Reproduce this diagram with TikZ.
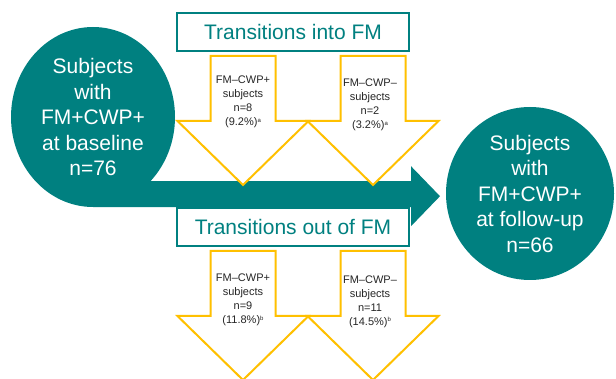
\documentclass[tikz,border=0pt]{standalone}
\usepackage{fontspec}
\setmainfont{Liberation Sans}
\usepackage{xcolor}
\usetikzlibrary{positioning,shapes}
\definecolor{fmteal}{RGB}{0,128,128}
\definecolor{fmyellow}{RGB}{255,192,0}
\newcommand{\fnmark}[1]{\raisebox{3.5pt}{\fontsize{6}{6}\selectfont #1}}

\begin{document}
\begin{tikzpicture}[x=1pt,y=-1pt,
    cohort/.style = {ellipse, fill=fmteal, text=white, align=center, inner sep=0pt, font=\fontsize{21}{25.5}\selectfont},
    fmbox/.style = {rectangle, draw=fmteal, line width=2pt, fill=white, text=fmteal, minimum width=232pt, minimum height=38pt, inner sep=0pt, font=\fontsize{21}{25}\selectfont},
    flow/.style = {draw=fmyellow, line width=2pt, fill=white, line join=miter},
    subjtext/.style = {align=center, text=black!85, inner sep=0pt, font=\fontsize{11}{14}\selectfont}]
  \useasboundingbox (0,0) rectangle (616,379);
  \clip (0,0) rectangle (616,379);

  \node[cohort, minimum width=164pt, minimum height=180pt] (base) at (93,117) {};
  \node[cohort, minimum width=168pt, minimum height=173pt] (followup) at (530,193.5) {Subjects\\with\\FM+CWP+\\at follow-up\\n=66};

  % big arrow from baseline to follow-up
  \fill[fmteal] (base.south) -- ++(318,0) -- ++(0,19) -- ++(29,-30) -- ++(-29,-30) -- ++(0,15) -- ++(-318,0) -- cycle;
  \node[text=white, align=center, inner sep=0pt, font=\fontsize{21}{25.5}\selectfont] (basetext) at (base.center) {Subjects\\with\\FM+CWP+\\at baseline\\n=76};

  \foreach \cx/\ty in {243/56, 373/56, 243/251, 373/251}
    \draw[flow] (\cx-32.5,\ty) -- (\cx+32.5,\ty) -- (\cx+32.5,\ty+65) -- (\cx+65.5,\ty+65)
      -- (\cx,\ty+129) -- (\cx-65.5,\ty+65) -- (\cx-32.5,\ty+65) -- cycle;

  \node[fmbox] (into) at (293,32) {Transitions into FM};
  \node[fmbox] (outof) at (293,227) {Transitions out of FM};

  \node[subjtext] (in1) at (243,102) {FM–CWP+\\subjects\\n=8\\(9.2\%)\fnmark{a}};
  \node[subjtext] (in2) at (370,105) {FM–CWP–\\subjects\\n=2\\(3.2\%)\fnmark{a}};
  \node[subjtext] (out1) at (243,300) {FM–CWP+\\subjects\\n=9\\(11.8\%)\fnmark{b}};
  \node[subjtext] (out2) at (370,301.5) {FM–CWP–\\subjects\\n=11\\(14.5\%)\fnmark{b}};
\end{tikzpicture}
\end{document}
